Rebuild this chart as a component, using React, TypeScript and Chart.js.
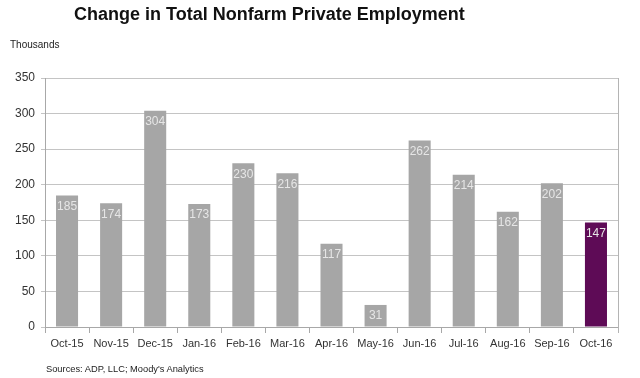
import React, { useEffect, useRef } from "react";
import { Chart, registerables } from "chart.js";

Chart.register(...registerables);

const categories = ["Oct-15", "Nov-15", "Dec-15", "Jan-16", "Feb-16", "Mar-16", "Apr-16", "May-16", "Jun-16", "Jul-16", "Aug-16", "Sep-16", "Oct-16"];
const values = [185, 174, 304, 173, 230, 216, 117, 31, 262, 214, 162, 202, 147];
const barColors = ["#a6a6a6", "#a6a6a6", "#a6a6a6", "#a6a6a6", "#a6a6a6", "#a6a6a6", "#a6a6a6", "#a6a6a6", "#a6a6a6", "#a6a6a6", "#a6a6a6", "#a6a6a6", "#5e0b56"];
const yTicks = [0, 50, 100, 150, 200, 250, 300, 350];

const title = "Change in Total Nonfarm Private Employment";
const unitLabel = "Thousands";
const sourceText = "Sources: ADP, LLC; Moody's Analytics";

const valueLabels = {
  id: "valueLabels",
  afterDatasetsDraw(chart: any) {
    const ctx = chart.ctx;
    const meta = chart.getDatasetMeta(0);
    ctx.save();
    ctx.font = "12px Arial, 'Liberation Sans', sans-serif";
    ctx.fillStyle = "#e6e6e6";
    ctx.textAlign = "center";
    ctx.textBaseline = "middle";
    meta.data.forEach((el: any, i: number) => {
      ctx.fillText(String(values[i]), el.x, el.y + 11);
    });
    ctx.restore();
  },
};

const rightBorder = {
  id: "rightBorder",
  afterDraw(chart: any) {
    const { ctx, chartArea } = chart;
    ctx.save();
    ctx.strokeStyle = "#b4b4b4";
    ctx.lineWidth = 1;
    ctx.beginPath();
    ctx.moveTo(chartArea.right + 0.5, chartArea.top);
    ctx.lineTo(chartArea.right + 0.5, chartArea.bottom + 6);
    ctx.stroke();
    ctx.restore();
  },
};

export default function App() {
  const ref = useRef<HTMLCanvasElement>(null);
  useEffect(() => {
    if (!ref.current) return;
    const chart = new Chart(ref.current, {
      type: "bar",
      data: {
        labels: categories,
        datasets: [
          {
            data: values,
            backgroundColor: barColors,
            barPercentage: 0.5,
            categoryPercentage: 1,
          },
        ],
      },
      options: {
        responsive: false,
        animation: false,
        layout: { padding: { top: 78, left: 0, right: 22, bottom: 0 } },
        plugins: {
          legend: { display: false },
          tooltip: { enabled: false },
        },
        scales: {
          x: {
            afterFit: (s: any) => {
              s.height = 51;
            },
            grid: {
              offset: true,
              drawOnChartArea: false,
              tickLength: 6,
              color: "#a8a8a8",
            },
            border: { color: "#a8a8a8" },
            ticks: {
              color: "#333333",
              font: { family: "Arial, 'Liberation Sans', sans-serif", size: 11 },
              padding: 4,
              maxRotation: 0,
              autoSkip: false,
            },
          },
          y: {
            min: 0,
            max: 350,
            afterFit: (s: any) => {
              s.width = 45;
            },
            afterBuildTicks: (s: any) => {
              s.ticks = yTicks.map((v) => ({ value: v }));
            },
            grid: {
              color: "#c4c4c4",
              tickLength: 4,
            },
            border: { color: "#a8a8a8" },
            ticks: {
              color: "#333333",
              font: { family: "Arial, 'Liberation Sans', sans-serif", size: 12 },
              padding: 6,
            },
          },
        },
      },
      plugins: [valueLabels, rightBorder],
    });
    return () => chart.destroy();
  }, []);

  return (
    <div style={{ position: "absolute", left: 0, top: 0, width: 640, height: 378, background: "#ffffff", overflow: "hidden" }}>
      <canvas ref={ref} width={640} height={378} style={{ position: "absolute", left: 0, top: 0 }} />
      <div
        style={{
          position: "absolute",
          left: 74,
          top: 3,
          font: "bold 18px Arial, 'Liberation Sans', sans-serif",
          lineHeight: "22px",
          color: "#111111",
          whiteSpace: "nowrap",
        }}
      >
        {title}
      </div>
      <div
        style={{
          position: "absolute",
          left: 10,
          top: 39,
          font: "10px Arial, 'Liberation Sans', sans-serif",
          lineHeight: "12px",
          color: "#222222",
        }}
      >
        {unitLabel}
      </div>
      <div
        style={{
          position: "absolute",
          left: 46,
          top: 363,
          font: "9.3px Arial, 'Liberation Sans', sans-serif",
          lineHeight: "12px",
          color: "#222222",
          whiteSpace: "nowrap",
        }}
      >
        {sourceText}
      </div>
    </div>
  );
}
